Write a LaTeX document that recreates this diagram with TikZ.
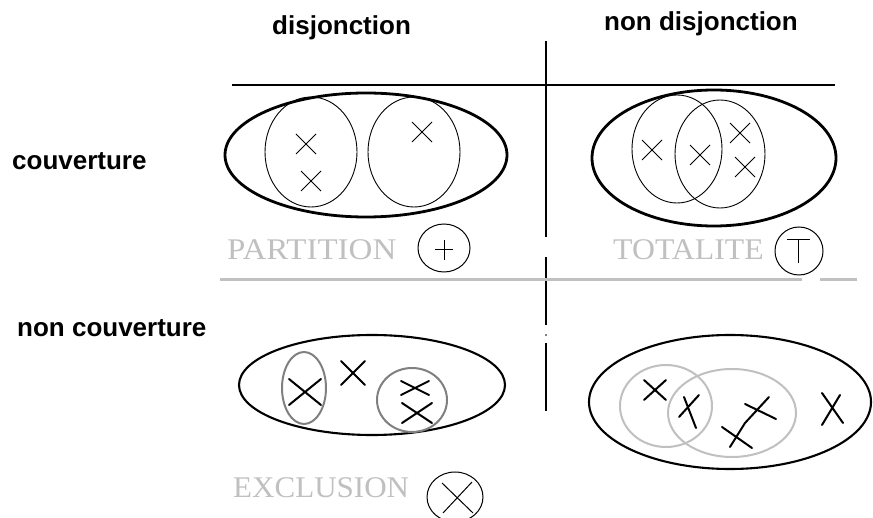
\documentclass[tikz,border=0pt]{standalone}
\usepackage{fontspec}
\usepackage{graphicx}
\setmainfont{Liberation Serif}
\newfontfamily\hdfont{Liberation Sans}
\definecolor{lgray}{HTML}{C0C0C0}
\definecolor{mgray}{HTML}{808080}
\newcommand\xcr[5][]{\draw[#1] (#2-#4,#3-#5) -- (#2+#4,#3+#5) (#2-#4,#3+#5) -- (#2+#4,#3-#5);}
\tikzset{
  head/.style={inner sep=0pt, anchor=base west, font=\hdfont\bfseries\fontsize{26}{26}\selectfont},
  kind/.style={inner sep=0pt, anchor=base west, text=lgray, font=\fontsize{30}{30}\selectfont},
  outer/.style={line width=2.8pt},
  outerb/.style={line width=2.1pt},
  thin/.style={line width=0.9pt},
  thick/.style={line width=2pt, line cap=round},
}
\begin{document}
\begin{tikzpicture}[x=1pt,y=-1pt]
\useasboundingbox (0,0) rectangle (873,518);
\fill[white] (0,0) rectangle (873,518);
% headers
\node[head] (hdis) at (272,35) {disjonction};
\node[head] (hndis) at (604,31) {non disjonction};
\node[head] (hcouv) at (12,170) {couverture};
\node[head] (hncouv) at (17,337) {non couverture};
% grid lines
\draw[line width=1.2pt] (232,85) -- (835,85);
\draw[line width=1.1pt] (546,41) -- (546,237) (546,257) -- (546,325) (546,343) -- (546,411);
\fill (546,335) circle (0.8pt);
\draw[lgray, line width=3pt] (220,280) -- (802,280) (820,280) -- (857,280);
% top-left : partition
\draw[outer] (366,155) ellipse [x radius=141, y radius=62];
\draw[thin] (311,152) ellipse [x radius=46, y radius=55];
\draw[thin] (414,152) ellipse [x radius=46, y radius=55];
\xcr[thin]{306}{144}{10}{10}
\xcr[thin]{311}{181}{10}{10}
\xcr[thin]{422}{132}{10}{10}
\node[kind] (part) at (227,260) {\scalebox{1.1}[1]{PARTITION}};
\draw[line width=1pt] (444,248) ellipse [x radius=26, y radius=24];
\draw[line width=1pt] (435,250) -- (453,250) (444,240) -- (444,260);
% top-right : totalite
\draw[outer] (714,158) ellipse [x radius=122, y radius=68];
\draw[thin] (677,149) ellipse [x radius=45, y radius=54];
\draw[thin] (720,154) ellipse [x radius=45, y radius=54];
\xcr[thin]{652}{150}{10}{10}
\xcr[thin]{700}{155}{10}{10}
\xcr[thin]{740}{133}{10}{10}
\xcr[thin]{745}{167}{10}{10}
\node[kind] (tota) at (613,260) {\scalebox{1.06}[1]{TOTALITE}};
\draw[line width=1pt] (799,251) circle (24);
\draw[line width=1pt] (787,240) -- (810,240) (798,240) -- (798,263);
% bottom-left : exclusion
\draw[outerb] (372,385) ellipse [x radius=133, y radius=50];
\draw[mgray, line width=2pt] (304,388) ellipse [x radius=22, y radius=36];
\draw[mgray, line width=2pt] (412,400) ellipse [x radius=35, y radius=32];
\xcr[thick]{305}{392}{16}{13}
\xcr[thick]{353}{373}{12}{12}
\xcr[thick]{415}{388}{14}{7}
\xcr[thick]{417}{413}{15}{10}
\node[kind] (excl) at (233,497) {\scalebox{1.035}[1]{EXCLUSION}};
\draw[line width=1pt] (455,497) ellipse [x radius=28, y radius=25];
\draw[line width=1pt] (442,483) -- (473,513) (472,482) -- (443,513);
% bottom-right
\draw[outerb] (730,402) ellipse [x radius=141, y radius=67];
\draw[lgray, line width=2pt] (666,406) ellipse [x radius=46, y radius=41];
\draw[lgray, line width=2pt] (732,413) ellipse [x radius=64, y radius=44];
\xcr[thick]{655}{390}{11}{10}
\draw[thick] (684,397) -- (696,428) (699,395) -- (679,417);
\draw[thick] (745,404) -- (776,419);
\draw[thick] (769,397) -- (745,423) -- (730,447);
\draw[thick] (722,427) -- (752,448);
\draw[thick] (822,393) -- (843,423) (840,395) -- (822,425);
\end{tikzpicture}
\end{document}
